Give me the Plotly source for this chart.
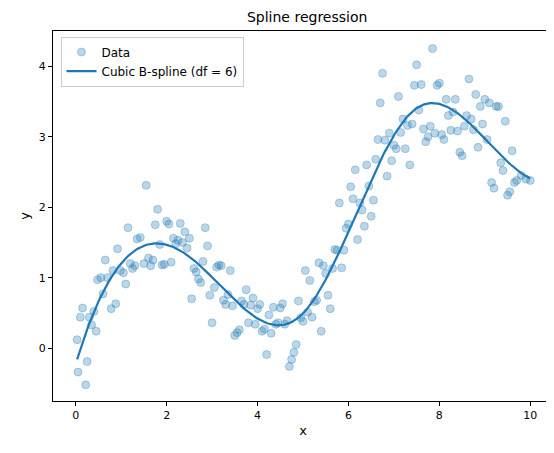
import numpy as np
import plotly.graph_objects as go

x_data = [0.03,0.05,0.1,0.15,0.22,0.25,0.3,0.35,0.4,0.45,0.48,0.55,0.6,0.65,0.7,0.78,0.82,0.88,0.92,0.98,
1.05,1.1,1.15,1.2,1.25,1.3,1.35,1.42,1.5,1.55,1.6,1.65,1.7,1.75,1.8,1.85,1.9,1.95,2.0,2.05,
2.1,2.15,2.2,2.25,2.3,2.35,2.4,2.45,2.5,2.55,2.6,2.65,2.7,2.75,2.8,2.85,2.9,2.95,3.0,3.05,
3.1,3.15,3.2,3.25,3.3,3.35,3.4,3.45,3.5,3.55,3.6,3.65,3.7,3.75,3.8,3.85,3.9,3.95,4.0,4.05,
4.1,4.15,4.2,4.25,4.3,4.35,4.4,4.45,4.5,4.55,4.6,4.65,4.7,4.75,4.8,4.85,4.9,4.95,5.0,5.05,
5.1,5.15,5.2,5.25,5.3,5.35,5.4,5.45,5.5,5.55,5.6,5.65,5.7,5.75,5.8,5.85,5.9,5.95,6.0,6.05,
6.1,6.15,6.2,6.25,6.3,6.35,6.4,6.45,6.5,6.55,6.6,6.65,6.7,6.75,6.8,6.85,6.9,6.95,7.0,7.05,
7.1,7.15,7.2,7.25,7.3,7.35,7.4,7.45,7.5,7.55,7.6,7.65,7.7,7.75,7.8,7.85,7.9,7.95,8.0,8.05,
8.1,8.15,8.2,8.25,8.3,8.35,8.4,8.45,8.5,8.55,8.6,8.65,8.7,8.75,8.8,8.85,8.9,8.95,9.0,9.05,
9.1,9.15,9.2,9.25,9.3,9.35,9.4,9.45,9.5,9.55,9.6,9.65,9.7,9.8,9.9,10.0]
y_data = [0.12,-0.34,0.44,0.57,-0.52,-0.19,0.44,0.33,0.52,0.24,0.97,1.0,0.77,1.25,1.0,0.56,1.1,0.63,1.41,1.1,
1.07,0.91,1.71,1.2,1.13,1.17,1.55,1.57,1.2,2.31,1.28,1.17,1.25,1.75,1.97,1.47,1.18,1.19,1.8,1.76,
1.22,1.56,1.48,1.53,1.77,1.5,1.65,1.42,1.56,0.7,1.13,1.08,0.98,0.93,1.23,1.71,1.45,0.75,0.36,0.86,
1.15,1.18,1.17,0.68,0.62,0.76,1.1,0.6,0.18,0.22,0.26,0.67,0.62,0.83,0.36,0.61,0.71,0.34,0.56,0.62,
0.24,0.27,-0.09,0.47,0.21,0.58,0.34,0.36,0.57,0.63,0.34,0.39,-0.26,-0.16,-0.06,0.05,0.67,0.43,0.38,1.1,
0.51,0.96,0.44,0.66,0.68,1.21,0.24,1.17,1.06,0.75,0.56,1.13,1.4,1.39,2.06,1.14,1.39,1.7,1.76,2.29,
2.12,2.53,1.54,2.06,1.96,1.73,2.6,2.3,1.87,2.1,2.68,2.96,3.48,3.9,2.95,2.44,3.05,2.66,2.88,2.83,
3.57,3.06,3.25,2.83,3.16,2.6,3.18,3.73,4.02,3.38,3.74,3.11,2.93,3.0,3.15,4.25,3.05,3.73,3.76,3.03,
2.96,3.53,3.3,3.09,3.35,3.53,3.08,2.78,2.73,3.15,3.3,3.82,3.25,3.1,3.6,2.85,3.43,3.18,3.53,2.96,
3.48,2.35,2.27,3.43,3.43,2.63,2.52,3.22,2.17,2.22,2.8,2.35,2.38,2.45,2.4,2.38]

x = np.array(x_data); y = np.array(y_data)

def bspline_basis(xv, knots, deg):
    t = np.concatenate([[knots[0]] * deg, knots, [knots[-1]] * deg])
    n = len(t) - deg - 1
    B = np.zeros((len(xv), len(t) - 1))
    for i in range(len(t) - 1):
        B[:, i] = ((xv >= t[i]) & (xv < t[i + 1])).astype(float)
    last = np.where(t[:-1] < t[1:])[0][-1]
    B[xv >= t[-1], last] = 1.0
    for k in range(1, deg + 1):
        Bn = np.zeros((len(xv), len(t) - 1 - k))
        for i in range(len(t) - 1 - k):
            a = t[i + k] - t[i]; b = t[i + k + 1] - t[i + 1]
            term = 0
            if a > 0: term = term + (xv - t[i]) / a * B[:, i]
            if b > 0: term = term + (t[i + k + 1] - xv) / b * B[:, i + 1]
            Bn[:, i] = term
        B = Bn
    return B[:, :n]

inner = np.quantile(x, [0.25, 0.5, 0.75])
knots = np.concatenate([[x.min()], inner, [x.max()]])
X = np.column_stack([np.ones(len(x)), bspline_basis(x, knots, 3)[:, 1:]])
coef, *_ = np.linalg.lstsq(X, y, rcond=None)
xs = np.linspace(x.min(), x.max(), 300)
Xs = np.column_stack([np.ones(len(xs)), bspline_basis(xs, knots, 3)[:, 1:]])
ys = Xs @ coef

fig = go.Figure()
fig.add_trace(go.Scatter(x=x, y=y, mode="markers", name="Data",
    marker=dict(size=8, color="rgba(31,119,180,0.3)", line=dict(width=1, color="rgba(31,119,180,0.3)"))))
fig.add_trace(go.Scatter(x=xs, y=ys, mode="lines", name="Cubic B-spline (df = 6)",
    line=dict(color="#1f77b4", width=2.2)))

ax = dict(showgrid=False, zeroline=False, showline=True, linecolor="black", mirror=True,
          ticks="outside", ticklen=4, tickcolor="black", tickfont=dict(size=11, color="black"))
fig.update_layout(
    width=554, height=453, plot_bgcolor="white", paper_bgcolor="white",
    font=dict(family="DejaVu Sans", size=11, color="black"),
    margin=dict(l=45, r=9, t=23, b=60),
    title=dict(text="Spline regression", x=0.54, xanchor="center", y=0.99, yanchor="top", font=dict(size=14)),
    xaxis=dict(title=dict(text="x", standoff=4), range=[-0.5, 10.5], tickvals=[0,2,4,6,8,10], **ax),
    yaxis=dict(title=dict(text="y", standoff=6), range=[-0.75, 4.5], tickvals=[0,1,2,3,4], **ax),
    legend=dict(x=0.015, y=0.985, xanchor="left", yanchor="top", bordercolor="#cccccc",
                borderwidth=1, bgcolor="white", font=dict(size=12)),
)
fig.write_html("out.html")
